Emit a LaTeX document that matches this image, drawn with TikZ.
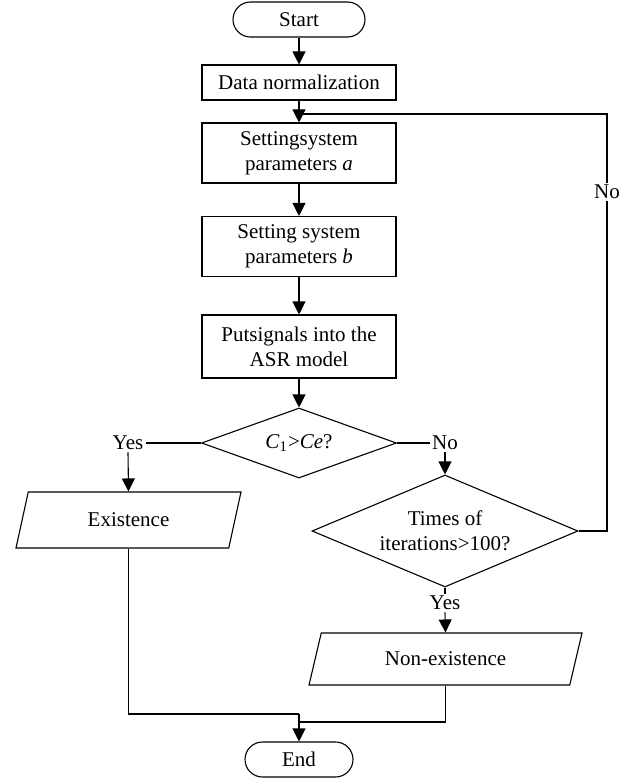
\documentclass[tikz,border=0pt]{standalone}
\usepackage{fontspec}
\setmainfont{Liberation Serif}
\usetikzlibrary{shapes.geometric,arrows.meta}
\tikzset{
  box/.style={draw, rectangle, minimum width=97pt, minimum height=30pt, align=center, inner sep=2pt, line width=0.55pt},
  term/.style={draw, rectangle, rounded corners=8.75pt, minimum height=17.5pt, inner sep=2pt, line width=0.55pt},
  decision/.style={draw, diamond, aspect=2.2, inner sep=0pt, align=center, line width=0.55pt},
  io/.style={draw, trapezium, trapezium left angle=61, trapezium right angle=119, trapezium stretches body, inner sep=2pt, line width=0.55pt},
  line/.style={line width=0.55pt},
  arr/.style={line, -{Triangle[width=6.5pt,length=6.5pt]}}
}
\begin{document}
\begin{tikzpicture}[x=0.5pt,y=-0.5pt,font=\fontsize{10.5}{12.5}\selectfont]
\useasboundingbox (0,0) rectangle (637,781);
\node[term, minimum width=66pt] (start) at (299,19.5) {Start};
\node[box, minimum height=17.5pt] (norm) at (299,82.5) {Data normalization};
\node[box] (seta) at (299,153) {Settingsystem\\parameters \textit{a}};
\node[box] (setb) at (299,246.5) {Setting system\\parameters \textit{b}};
\node[box, minimum height=31.5pt] (put) at (299,346.5) {Putsignals into the\\ASR model};
\node[decision, minimum width=97.5pt, minimum height=35pt] (cmp) at (299,443) {\textit{C}\textsubscript{1}>\textit{Ce}?};
\node[decision, minimum width=133pt, minimum height=56pt] (iter) at (445,531) {Times of\\iterations>100?};
\node[io, minimum width=112.5pt, minimum height=28pt] (exist) at (128.5,520) {Existence};
\node[io, minimum width=136.5pt, minimum height=26pt] (nonex) at (445.5,659) {Non-existence};
\node[term, minimum width=54pt] (end) at (299,759.5) {End};
\node[inner sep=1pt] (yes1) at (128,443) {Yes};
\node[inner sep=1pt] (no1) at (445,443) {No};
\node[inner sep=1pt] (yes2) at (445,603) {Yes};
\node[inner sep=1pt] (no2) at (607,192) {No};
\coordinate (join) at (299,114);
\coordinate (merge1) at (299,714);
\coordinate (merge2) at (299,722);
\draw[arr] (start) -- (norm);
\draw[arr] (norm) -- (seta);
\draw[arr] (seta) -- (setb);
\draw[arr] (setb) -- (put);
\draw[arr] (put) -- (cmp);
\draw[line] (cmp.west) -- (yes1.east);
\draw[arr] (yes1.south) -- (exist.north);
\draw[line] (cmp.east) -- (no1.west);
\draw[arr] (no1.south) -- (iter.north);
\draw[line] (iter.south) -- (yes2.north);
\draw[arr] (yes2.south) -- (nonex.north);
\draw[line] (iter.east) -| (no2.south);
\draw[line] (no2.north) |- (join);
\draw[line] (exist.south) |- (merge1);
\draw[line] (nonex.south) |- (merge2);
\draw[arr] (merge1) -- (end.north);
\end{tikzpicture}
\end{document}
